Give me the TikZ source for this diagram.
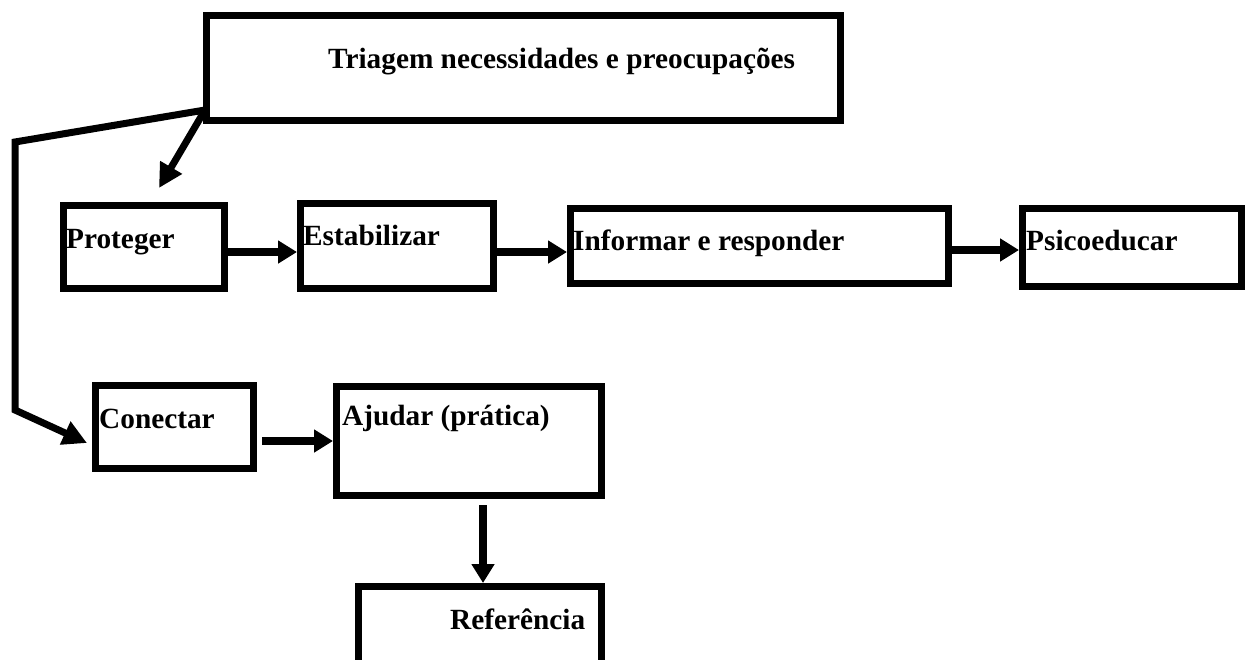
\documentclass[tikz,border=0pt]{standalone}
\usepackage{fontspec}
\setmainfont{Liberation Serif}
\usetikzlibrary{arrows.meta,calc}
\begin{document}
\begin{tikzpicture}[x=1pt,y=-1pt,
  box/.style={draw=black,line width=7pt,inner sep=0pt,outer sep=3.5pt,rectangle},
  lbl/.style={anchor=base west,inner sep=0pt,font=\fontsize{29.3}{35}\selectfont\bfseries},
  arr/.style={line width=7.5pt,-{Triangle[length=19pt,width=22pt]}},
  bigarr/.style={line width=7pt,line join=miter,-{Triangle[length=24pt,width=24pt]}}]
\useasboundingbox (0,0) rectangle (1249,659);
\clip (0,0) rectangle (1249,659);
% boxes (center-line geometry)
\node[box,minimum width=634pt,minimum height=105pt] (tri) at (523.5,68) {};
\node[box,minimum width=161pt,minimum height=83pt] (prot) at (144,247) {};
\node[box,minimum width=193pt,minimum height=85pt] (est) at (397,246) {};
\node[box,minimum width=378pt,minimum height=75pt] (inf) at (759.5,246) {};
\node[box,minimum width=219pt,minimum height=78pt] (psi) at (1132,247.5) {};
\node[box,minimum width=158pt,minimum height=83pt] (conn) at (174.5,427) {};
\node[box,minimum width=265pt,minimum height=109pt] (ajud) at (469,441) {};
\node[box,minimum width=243pt,minimum height=120pt] (ref) at (480,646.5) {};
% labels
\node[lbl] (ttri) at (328,68) {Triagem necessidades e preocupações};
\node[lbl] (tprot) at (66,248) {Proteger};
\node[lbl] (test) at (303,245) {Estabilizar};
\node[lbl] (tinf) at (573,250) {Informar e responder};
\node[lbl] (tpsi) at (1026,250) {Psicoeducar};
\node[lbl] (tconn) at (99,428) {Conectar};
\node[lbl] (tajud) at (342,425) {Ajudar (prática)};
\node[lbl] (tref) at (450,629) {Referência};
% free ends
\coordinate (ptip) at (159,188);
\coordinate (bendA) at (15,142);
\coordinate (bendB) at (15,410);
\coordinate (ctip) at (87,443);
% connectors
\draw[bigarr] ($(tri.south west)+(2,-14)$) -- (ptip);
\draw[bigarr] ($(tri.south west)+(2,-14)$) -- (bendA) -- (bendB) -- (ctip);
\draw[arr] ($(prot.east)+(0,5)$) -- ($(est.west)+(0,6)$);
\draw[arr] ($(est.east)+(0,6)$) -- ($(inf.west)+(0,6)$);
\draw[arr] ($(inf.east)+(0,4)$) -- ($(psi.west)+(0,2.5)$);
\draw[arr] ($(conn.east)+(5,14)$) -- (ajud.west);
\draw[arr] ($(ajud.south)+(14,6)$) -- ($(ref.north)+(3,0)$);
\end{tikzpicture}
\end{document}
